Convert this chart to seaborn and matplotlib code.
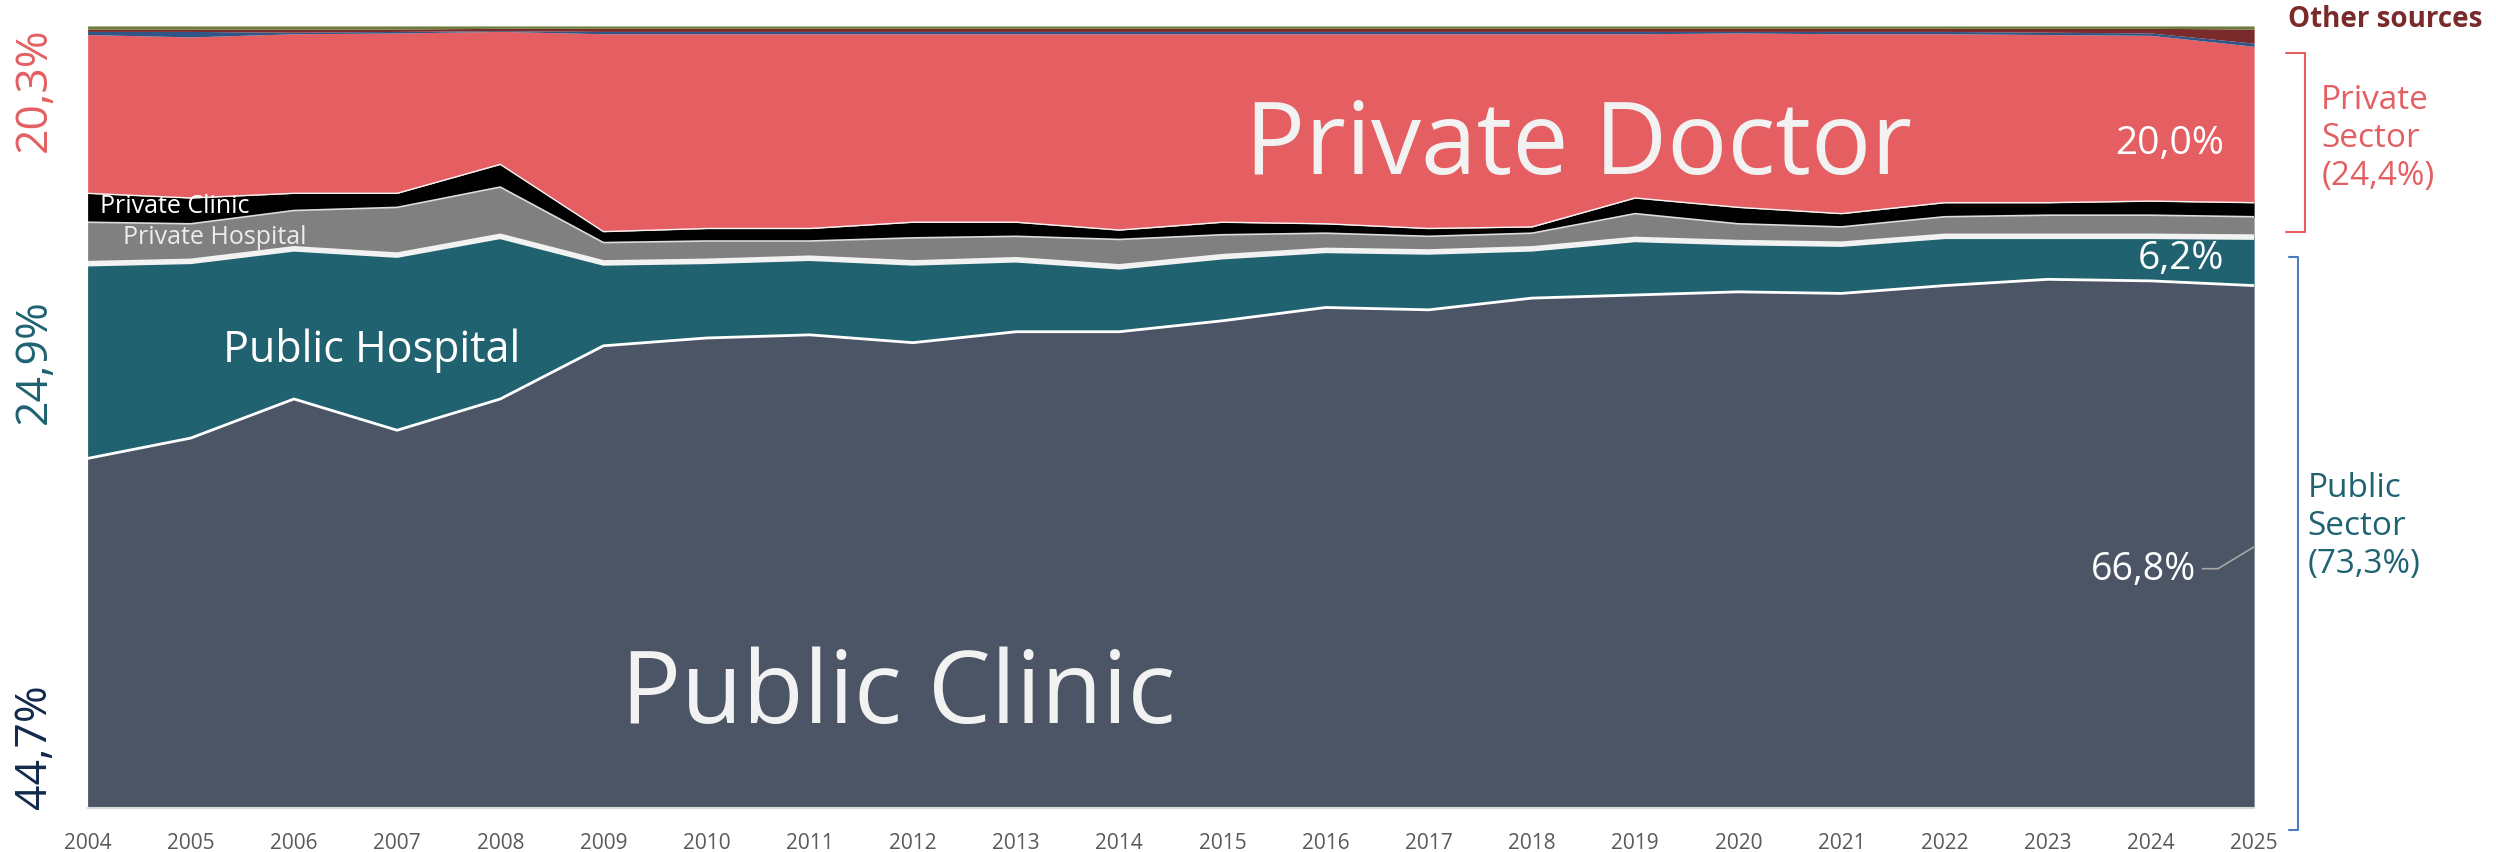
import numpy as np
import pandas as pd
import matplotlib.pyplot as plt
import seaborn as sns

sns.set_style("white")
plt.rcParams["font.family"] = ["Open Sans", "DejaVu Sans"]

# ---------------- data (share of visits, %) ----------------
years = list(range(2004, 2026))
public_clinic = [44.7, 47.3, 52.3, 48.3, 52.3, 59.1, 60.1, 60.5, 59.5, 60.9, 60.9,
                 62.3, 64.0, 63.7, 65.2, 65.6, 66.0, 65.8, 66.8, 67.6, 67.4, 66.8]
public_hospital = [24.9, 22.6, 19.2, 22.4, 20.8, 10.6, 9.8, 9.8, 10.2, 9.2, 8.3,
                   8.2, 7.3, 7.4, 6.3, 7.1, 6.3, 6.3, 6.3, 5.5, 5.7, 6.2]
private_hospital = [5.3, 4.8, 4.9, 6.1, 6.3, 2.6, 2.6, 2.2, 3.2, 3.0, 3.5,
                    2.8, 2.2, 2.0, 2.0, 3.3, 2.4, 2.2, 2.5, 2.7, 2.7, 2.6]
private_clinic = [3.7, 3.3, 2.2, 1.8, 2.9, 1.4, 1.6, 1.6, 2.0, 1.8, 1.2,
                  1.6, 1.2, 1.0, 0.8, 2.0, 2.1, 1.7, 1.8, 1.6, 1.8, 1.8]
private_doctor = [20.3, 20.6, 20.4, 20.5, 17.0, 25.3, 24.9, 24.9, 24.1, 24.1, 25.1,
                  24.1, 24.3, 24.9, 24.7, 21.0, 22.3, 23.0, 21.6, 21.5, 21.2, 20.0]
other_blue = [0.4, 0.7, 0.2, 0.2, 0.1, 0.3, 0.3, 0.3, 0.3, 0.3, 0.3,
              0.3, 0.3, 0.3, 0.3, 0.3, 0.2, 0.3, 0.3, 0.3, 0.3, 0.4]
other_maroon = [0.3, 0.3, 0.4, 0.3, 0.3, 0.4, 0.4, 0.4, 0.4, 0.4, 0.4,
                0.4, 0.4, 0.4, 0.4, 0.4, 0.4, 0.4, 0.4, 0.5, 0.6, 1.8]
other_green = [0.4, 0.4, 0.4, 0.4, 0.3, 0.3, 0.3, 0.3, 0.3, 0.3, 0.3,
               0.3, 0.3, 0.3, 0.3, 0.3, 0.3, 0.3, 0.3, 0.3, 0.3, 0.4]

df = pd.DataFrame({
    "public_clinic": public_clinic,
    "public_hospital": public_hospital,
    "private_hospital": private_hospital,
    "private_clinic": private_clinic,
    "private_doctor": private_doctor,
    "other_blue": other_blue,
    "other_maroon": other_maroon,
    "other_green": other_green,
}, index=years)
df = df.div(df.sum(axis=1), axis=0) * 100      # 100% stacked
cum = df.cumsum(axis=1)

colors = ["#4b5565", "#216271", "#808080", "#000000", "#e55e61",
          "#2f5686", "#7b2a2b", "#6d7d3c"]
RED, TEAL, NAVY, MAROON = "#e35f62", "#1f6272", "#13294b", "#7a2a2a"

# ---------------- figure ----------------
fig = plt.figure(figsize=(24.96, 8.53), dpi=100)
ax = fig.add_axes([0.0351, 0.0516, 0.868, 0.9168])
ax.stackplot(df.index, df.T.values, colors=colors, linewidth=0)

# separators between layers
for col, lw, c in [("public_clinic", 2.0, "white"),
                   ("public_hospital", 4.0, "#f2f2f2"),
                   ("private_hospital", 1.2, "#dddddd"),
                   ("private_clinic", 1.0, "#f5f5f5")]:
    sns.lineplot(x=cum.index, y=cum[col].values, ax=ax, color=c,
                 linewidth=lw, legend=False)

ax.set_xlim(2004, 2025)
ax.set_ylim(0, 100)
ax.set_xticks(years)
ax.set_xticklabels([str(y) for y in years])
ax.set_yticks([])
ax.set_xlabel("")
ax.set_ylabel("")
for s in ["left", "top", "right"]:
    ax.spines[s].set_visible(False)
ax.spines["bottom"].set_color("#d9d9d9")
ax.spines["bottom"].set_linewidth(1.5)
ax.tick_params(axis="x", colors="#d9d9d9", length=9, width=1.5,
               labelcolor="#595959", labelsize=15, pad=8)

# ---------------- in-area labels ----------------
ax.text(2018.45, 84.6, "Private Doctor", color="#f2f2f2", fontsize=72,
        ha="center", va="center")
ax.text(2011.86, 14.3, "Public Clinic", color="#f2f2f2", fontsize=72,
        ha="center", va="center")
ax.text(2005.31, 58.6, "Public Hospital", color="white", fontsize=31,
        ha="left", va="center")
ax.text(2004.12, 77.0, "Private Clinic", color="white", fontsize=18,
        ha="left", va="center")
ax.text(2004.34, 73.1, "Private Hospital", color="#ececec", fontsize=18,
        ha="left", va="center")

ax.text(2024.71, 85.0, "20,0%", color="white", fontsize=28, ha="right", va="center")
ax.text(2024.71, 70.3, "6,2%", color="white", fontsize=28, ha="right", va="center")
ax.text(2024.44, 30.6, "66,8%", color="white", fontsize=27, ha="right", va="center")
ax.plot([2024.5, 2024.65, 2025.0], [30.6, 30.6, 33.4], color="#a6a6a6", lw=1.2)

# ---------------- left rotated values (2004) ----------------
x_left = 2003.49
ax.text(x_left, 100, "20,3%", color=RED, fontsize=32, rotation=90,
        ha="center", va="top", clip_on=False)
ax.text(x_left, cum["public_clinic"].iloc[0] + df["public_hospital"].iloc[0] / 2,
        "24,9%", color=TEAL, fontsize=32, rotation=90,
        ha="center", va="center", clip_on=False)
ax.text(x_left, 0, "44,7%", color=NAVY, fontsize=32, rotation=90,
        ha="center", va="bottom", clip_on=False)

# ---------------- right side: sources / sector brackets ----------------
ax.text(2025.33, 101.0, "Other sources", color=MAROON, fontsize=20,
        fontweight="bold", ha="left", va="center", clip_on=False)

ax.plot([2025.31, 2025.49, 2025.49, 2025.31], [96.5, 96.5, 73.7, 73.7],
        color=RED, lw=1.5, clip_on=False)
ax.text(2025.65, 85.8, "Private\nSector\n(24,4%)", color=RED, fontsize=24,
        ha="left", va="center", linespacing=1.2, clip_on=False)

ax.plot([2025.34, 2025.43, 2025.43, 2025.34], [70.5, 70.5, -2.8, -2.8],
        color="#4a7cc0", lw=1.5, clip_on=False)
ax.text(2025.52, 36.1, "Public\nSector\n(73,3%)", color=TEAL, fontsize=24,
        ha="left", va="center", linespacing=1.2, clip_on=False)

fig.savefig("out.png", dpi=100)
